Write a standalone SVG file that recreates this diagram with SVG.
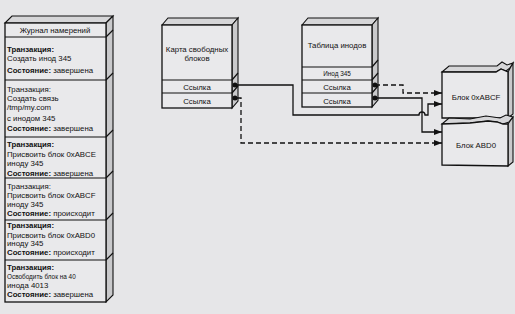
<svg xmlns="http://www.w3.org/2000/svg" width="515" height="314" viewBox="0 0 515 314">
<defs>
<style>
.bg{fill:#e6e6e8}
.front{fill:#e9e9eb;stroke:#111;stroke-width:1.3}
.top{fill:#d6d6d8;stroke:#111;stroke-width:1.1}
.side{fill:#c9c9cb;stroke:#111;stroke-width:1.1}
.ln{stroke:#111;stroke-width:1.2;fill:none}
.t{font-family:"Liberation Sans",Arial,sans-serif;font-size:7.8px;fill:#111}
.b{font-weight:bold}
.c{text-anchor:middle}
.s{font-size:6.4px}
.conn{fill:none;stroke:#111;stroke-width:1.3}
.dash{stroke-dasharray:5,3}
.dot{fill:#111}
</style>
<marker id="ah" viewBox="0 0 8 6" refX="8" refY="3" markerWidth="8" markerHeight="6" markerUnits="userSpaceOnUse" orient="auto">
<path d="M0,0 L8,3 L0,6 z" fill="#111"/>
</marker>
</defs>
<rect class="bg" x="0" y="0" width="515" height="314"/>

<g id="journal">
<polygon class="top" points="5,23 12,16 113,16 106,23"/>
<polygon class="side" points="106,23 113,16 113,295 106,302"/>
<rect class="front" x="5" y="23" width="101" height="279"/>
<path class="ln" d="M5,37 H106 M5,80 H106 M5,137 H106 M5,178 H106 M5,220 H106 M5,260 H106"/>
<path class="ln" d="M106,37 L113,30 M106,80 L113,73 M106,137 L113,130 M106,178 L113,171 M106,220 L113,213 M106,260 L113,253"/>
<text class="t c" x="55" y="33">Журнал намерений</text>
<text class="t b" x="7" y="52">Транзакция:</text>
<text class="t" x="7" y="61">Создать инод 345</text>
<text class="t" x="7" y="73"><tspan class="b">Состояние:</tspan> завершена</text>
<text class="t" x="7" y="92">Транзакция:</text>
<text class="t" x="7" y="101">Создать связь</text>
<text class="t" x="7" y="110">/tmp/my.com</text>
<text class="t" x="7" y="121">с инодом 345</text>
<text class="t" x="7" y="131"><tspan class="b">Состояние:</tspan> завершена</text>
<text class="t b" x="7" y="147">Транзакция:</text>
<text class="t" x="7" y="157">Присвоить блок 0xABCE</text>
<text class="t" x="7" y="166">иноду 345</text>
<text class="t" x="7" y="176"><tspan class="b">Состояние:</tspan> завершена</text>
<text class="t" x="7" y="189">Транзакция:</text>
<text class="t" x="7" y="198">Присвоить блок 0xABCF</text>
<text class="t" x="7" y="207">иноду 345</text>
<text class="t" x="7" y="216"><tspan class="b">Состояние:</tspan> происходит</text>
<text class="t b" x="7" y="228">Транзакция:</text>
<text class="t" x="7" y="238">Присвоить блок 0xABD0</text>
<text class="t" x="7" y="246">иноду 345</text>
<text class="t" x="7" y="255"><tspan class="b">Состояние:</tspan> происходит</text>
<text class="t b" x="7" y="270">Транзакция:</text>
<text class="t s" x="7" y="279">Освободить блок на 40</text>
<text class="t" x="7" y="288">инода 4013</text>
<text class="t" x="7" y="297"><tspan class="b">Состояние:</tspan> завершена</text>
</g>

<g id="freemap">
<polygon class="top" points="162,25 168,18 238,18 232,25"/>
<polygon class="side" points="232,25 238,18 238,101 232,108"/>
<rect class="front" x="162" y="25" width="70" height="83"/>
<path class="ln" d="M162,80 H232 M162,93 H232 M232,80 L238,73 M232,93 L238,86"/>
<text class="t c" x="197" y="52">Карта свободных</text>
<text class="t c" x="197" y="61">блоков</text>
<text class="t c" x="197" y="90">Ссылка</text>
<text class="t c" x="197" y="104">Ссылка</text>
<circle class="dot" cx="235" cy="85" r="2.5"/>
<circle class="dot" cx="235" cy="98" r="2.5"/>
</g>

<g id="inodes">
<polygon class="top" points="302,25 308,18 378,18 372,25"/>
<polygon class="side" points="372,25 378,18 378,100 372,107"/>
<rect class="front" x="302" y="25" width="70" height="82"/>
<path class="ln" d="M302,67 H372 M302,80 H372 M302,93 H372 M372,67 L378,60 M372,80 L378,73 M372,93 L378,86"/>
<text class="t c" x="337" y="48">Таблица инодов</text>
<text class="t c s" x="337" y="76">Инод 345</text>
<text class="t c" x="337" y="90">Ссылка</text>
<text class="t c" x="337" y="104">Ссылка</text>
<circle class="dot" cx="375" cy="85" r="2.5"/>
<circle class="dot" cx="375" cy="98" r="2.5"/>
</g>

<g id="block1">
<polygon class="top" points="442,72 449,66 497,66 502,62 507,65 513,63 510,68 506,71 501,69 496,72"/>
<polygon class="side" points="508,72 513,63 513,114 508,118"/>
<polygon class="front" points="442,72 496,72 501,69 508,72 508,118 442,118"/>
<text class="t c" x="476" y="100">Блок 0xABCF</text>
</g>

<g id="block2">
<polygon class="top" points="442,124 449,118 470,119 486,116 500,118 506,115 513,117 509,122 503,124 497,122 488,121 470,123"/>
<polygon class="side" points="508,124 513,117 513,162 508,166"/>
<polygon class="front" points="442,124 470,123 488,121 497,122 503,124 508,124 508,166 442,165"/>
<text class="t c" x="476" y="148">Блок ABD0</text>
</g>

<g id="connectors">
<path class="conn" d="M235,85 H293 V115 H419 A3,3 0 0 1 425,115 H428 V104 H442" marker-end="url(#ah)"/>
<path class="conn dash" d="M375,85 H403 V93 H442" marker-end="url(#ah)"/>
<path class="conn" d="M375,98 H422 V132 H442" marker-end="url(#ah)"/>
<path class="conn dash" d="M237,98 H241 V143 H442" marker-end="url(#ah)"/>
</g>
</svg>
